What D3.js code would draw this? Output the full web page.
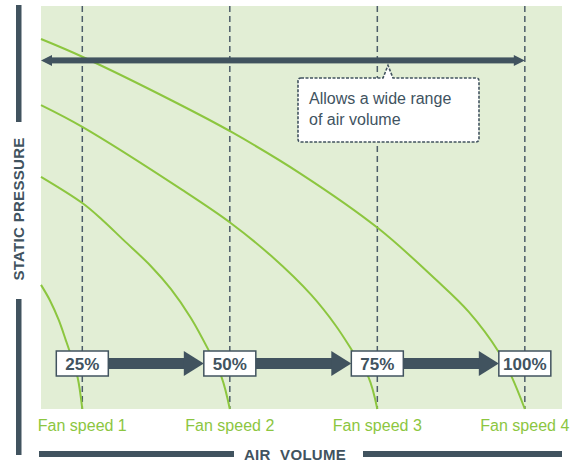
<!DOCTYPE html>
<html>
<head>
    <script src="https://cdnjs.cloudflare.com/ajax/libs/d3/7.8.5/d3.min.js"></script>
    <style>
        body { margin: 0; background: #fff; }
        text { font-family: "Liberation Sans", Arial, sans-serif; }
        .curve { fill: none; stroke: #8cc63f; stroke-width: 2; }
        .guide { stroke: #4d5d69; stroke-width: 1.5; stroke-dasharray: 6,4; }
        .axis-title { font-size: 15px; font-weight: bold; fill: #41535f; }
        .speed-label { font-size: 16px; fill: #8cc63f; }
        .pct-label { font-size: 17px; font-weight: bold; fill: #41535f; }
        .note { font-size: 16px; fill: #41535f; }
    </style>
</head>
<body>
    <svg width="577" height="466"></svg>
    <script>
        // Fan speeds: where each curve meets zero pressure (air volume, %)
        const speeds = [25, 50, 75, 100];
        const speedLabels = ["Fan speed 1", "Fan speed 2", "Fan speed 3", "Fan speed 4"];
        const pctLabels = ["25%", "50%", "75%", "100%"];

        // Fan curves: [air volume, static pressure]
        const curve1 = [[18, 30.8], [19.5, 27], [21, 22.1], [22.2, 17.1], [23.1, 13.2], [24.2, 7.9], [25, 0]];
        const curve2 = [[18, 57.6], [25, 51.1], [28.4, 46.9], [32, 41.9], [36.6, 35.5], [40, 29.8], [43.4, 22.6], [46.4, 14.6], [48.6, 7.9], [50, 0]];
        const curve3 = [[18, 75.4], [25, 70], [42, 54.3], [50.2, 46.1], [57, 38], [63.8, 28.3], [68, 20.6], [70.9, 14.1], [73.5, 7.9], [75, 0]];
        const curve4 = [[18, 91.8], [25, 87.4], [40.5, 76.3], [50.2, 68.8], [62.1, 58.3], [75.1, 44.9], [85, 32], [90.5, 24.1], [95.6, 14.1], [97.8, 7.9], [100, 0]];
        const curves = [curve1, curve2, curve3, curve4];

        const range = { from: 18, to: 100, pressure: 86.5 };
        const note = ["Allows a wide range", "of air volume"];

        const svg = d3.select("svg");
        const dark = "#41535f";

        // Plot area
        const plot = { left: 41, right: 562, top: 6, bottom: 409 };

        const x = d3.scaleLinear()
            .domain([18, 106.3])
            .range([plot.left, plot.right]);

        const y = d3.scaleLinear()
            .domain([0, 100])
            .range([plot.bottom, plot.top]);

        svg.append("rect")
            .attr("x", plot.left)
            .attr("y", plot.top)
            .attr("width", plot.right - plot.left)
            .attr("height", plot.bottom - plot.top)
            .attr("fill", "#e2eed5");

        // Dashed guides at each fan speed
        svg.selectAll(".guide")
            .data(speeds)
            .enter()
            .append("line")
            .attr("class", "guide")
            .attr("x1", d => x(d))
            .attr("x2", d => x(d))
            .attr("y1", y(100))
            .attr("y2", y(0));

        // Fan curves
        const line = d3.line()
            .x(d => x(d[0]))
            .y(d => y(d[1]))
            .curve(d3.curveCatmullRom.alpha(0.5));

        svg.selectAll(".curve")
            .data(curves)
            .enter()
            .append("path")
            .attr("class", "curve")
            .attr("d", line);

        // Double headed range arrow
        const ay = y(range.pressure);
        const x0 = x(range.from), x1 = x(range.to);
        svg.append("rect")
            .attr("x", x0 + 8)
            .attr("y", ay - 3)
            .attr("width", x1 - x0 - 16)
            .attr("height", 6)
            .attr("fill", dark);
        svg.append("path")
            .attr("d", `M${x0},${ay} L${x0 + 11},${ay - 5.5} L${x0 + 11},${ay + 5.5} Z`)
            .attr("fill", dark);
        svg.append("path")
            .attr("d", `M${x1},${ay} L${x1 - 11},${ay - 5.5} L${x1 - 11},${ay + 5.5} Z`)
            .attr("fill", dark);

        // Callout box
        const bx = 298, by = 78, bw = 181, bh = 64, px = 388;
        svg.append("path")
            .attr("d", `M${bx + 3},${by} L${px - 5},${by} L${px},${ay + 5} L${px + 5},${by} L${bx + bw - 3},${by}
                Q${bx + bw},${by} ${bx + bw},${by + 3} L${bx + bw},${by + bh - 3} Q${bx + bw},${by + bh} ${bx + bw - 3},${by + bh}
                L${bx + 3},${by + bh} Q${bx},${by + bh} ${bx},${by + bh - 3} L${bx},${by + 3} Q${bx},${by} ${bx + 3},${by} Z`)
            .attr("fill", "#fff")
            .attr("stroke", dark)
            .attr("stroke-width", 1.6)
            .attr("stroke-dasharray", "3,1.5");
        svg.selectAll(".note")
            .data(note)
            .enter()
            .append("text")
            .attr("class", "note")
            .attr("x", bx + 11)
            .attr("y", (d, i) => by + 26 + i * 21)
            .text(d => d);

        // Speed step arrows between boxes
        const boxW = 52, boxH = 25, rowY = 363.5;
        for (let i = 0; i < speeds.length - 1; i++) {
            const sx = x(speeds[i]) + boxW / 2;
            const ex = x(speeds[i + 1]) - boxW / 2;
            svg.append("rect")
                .attr("x", sx)
                .attr("y", rowY - 5.5)
                .attr("width", ex - sx - 19)
                .attr("height", 11)
                .attr("fill", dark);
            svg.append("path")
                .attr("d", `M${ex},${rowY} L${ex - 20},${rowY - 12.5} L${ex - 20},${rowY + 12.5} Z`)
                .attr("fill", dark);
        }

        const boxes = svg.selectAll(".pct")
            .data(speeds)
            .enter()
            .append("g")
            .attr("class", "pct")
            .attr("transform", d => `translate(${x(d)},${rowY})`);
        boxes.append("rect")
            .attr("x", -boxW / 2)
            .attr("y", -boxH / 2)
            .attr("width", boxW)
            .attr("height", boxH)
            .attr("fill", "#fff")
            .attr("stroke", dark)
            .attr("stroke-width", 1.5);
        boxes.append("text")
            .attr("class", "pct-label")
            .attr("text-anchor", "middle")
            .attr("y", 6.5)
            .text((d, i) => pctLabels[i]);

        // Fan speed labels
        svg.selectAll(".speed-label")
            .data(speeds)
            .enter()
            .append("text")
            .attr("class", "speed-label")
            .attr("x", d => x(d))
            .attr("y", 431)
            .attr("text-anchor", "middle")
            .text((d, i) => speedLabels[i]);

        // Axis titles with bars
        svg.append("rect").attr("x", 16).attr("y", 5).attr("width", 5.5).attr("height", 117).attr("fill", dark);
        svg.append("rect").attr("x", 16).attr("y", 299).attr("width", 5.5).attr("height", 156).attr("fill", dark);
        svg.append("text")
            .attr("class", "axis-title")
            .attr("transform", "translate(24,209) rotate(-90)")
            .attr("text-anchor", "middle")
            .style("letter-spacing", "0.3px")
            .text("STATIC PRESSURE");

        svg.append("rect").attr("x", 39).attr("y", 451).attr("width", 195).attr("height", 6).attr("fill", dark);
        svg.append("rect").attr("x", 363).attr("y", 451).attr("width", 199).attr("height", 6).attr("fill", dark);
        svg.append("text")
            .attr("class", "axis-title")
            .attr("x", 295)
            .attr("y", 459.5)
            .attr("text-anchor", "middle")
            .style("letter-spacing", "0.3px")
            .style("word-spacing", "5px")
            .text("AIR VOLUME");
    </script>
</body>
</html>
